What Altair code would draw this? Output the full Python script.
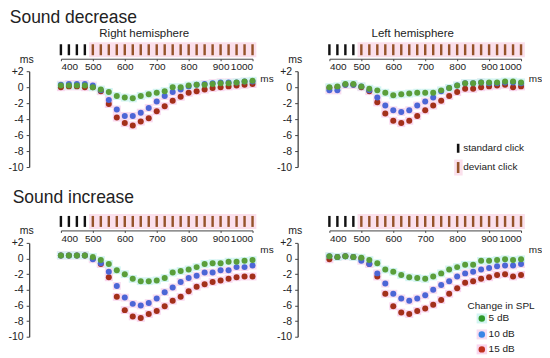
import altair as alt
import pandas as pd

FONT = "Liberation Sans"
TXT = "#222222"

# ---------------- data ----------------
times = [400, 425, 450, 475, 500, 525, 550, 575, 600, 625, 650, 675, 700,
         725, 750, 775, 800, 825, 850, 875, 900, 925, 950, 975, 1000]
clicks_standard = [400, 425, 450, 475]
clicks_deviant = [500, 525, 550, 575, 600, 625, 650, 675, 700, 725, 750, 775,
                  800, 825, 850, 875, 900, 925, 950, 975, 1000]
x_ticks = [400, 500, 600, 700, 800, 900, 1000]
y_ticks = [2, 0, -2, -4, -6, -8, -10]

series_names = ["5 dB", "10 dB", "15 dB"]
series_colors = ["#5a9e3a", "#4c66d6", "#a3301a"]
band_colors = ["#d3f4f2", "#f7dcf0", "#f9d6ee"]
legend_dot_colors = ["#2f9a2a", "#3a86e6", "#c0301e"]

# Sound decrease, right hemisphere
dec_right_5 = [0.2, 0.2, 0.2, 0.2, 0.0, -0.3, -0.6, -1.1, -1.3, -1.4, -1.1, -0.9, -0.7,
               -0.5, 0.0, 0.0, 0.2, 0.3, 0.3, 0.4, 0.5, 0.5, 0.6, 0.7, 0.8]
dec_right_10 = [0.3, 0.4, 0.4, 0.4, 0.2, -0.4, -1.6, -2.8, -3.6, -3.6, -3.2, -2.6, -1.8,
                -1.1, -0.6, -0.3, 0.1, 0.3, 0.4, 0.5, 0.6, 0.6, 0.6, 0.7, 0.7]
dec_right_15 = [0.0, 0.1, 0.1, 0.0, 0.0, -0.5, -2.1, -3.8, -4.5, -4.8, -4.3, -3.9, -3.0,
                -2.4, -1.7, -1.2, -0.7, -0.5, -0.3, -0.1, 0.0, 0.1, 0.2, 0.3, 0.4]
# Sound decrease, left hemisphere
dec_left_5 = [0.0, 0.1, 0.4, 0.4, 0.1, -0.2, -0.4, -0.7, -1.0, -0.9, -0.8, -0.7, -0.7,
              -0.7, -0.4, -0.1, 0.2, 0.5, 0.5, 0.6, 0.6, 0.6, 0.7, 0.7, 0.6]
dec_left_10 = [-0.4, -0.4, 0.3, 0.3, 0.1, -0.4, -1.3, -2.3, -2.9, -3.1, -2.9, -2.3, -1.8,
               -1.3, -0.5, -0.1, 0.2, 0.5, 0.5, 0.6, 0.5, 0.5, 0.6, 0.6, 0.5]
dec_left_15 = [-0.1, 0.0, 0.3, 0.3, 0.0, -0.5, -1.9, -3.3, -4.2, -4.5, -4.2, -3.6, -2.9,
               -2.3, -1.7, -1.1, -0.6, -0.2, -0.2, 0.0, 0.1, 0.2, 0.3, 0.0, 0.1]
# Sound increase, right hemisphere
inc_right_5 = [0.4, 0.4, 0.4, 0.4, 0.2, -0.2, -0.7, -1.5, -2.0, -2.6, -2.9, -2.9, -2.8,
               -2.5, -1.8, -1.6, -1.4, -1.1, -0.7, -0.6, -0.6, -0.4, -0.4, -0.3, -0.2]
inc_right_10 = [0.4, 0.4, 0.4, 0.4, -0.1, -0.6, -1.7, -3.5, -5.0, -5.8, -6.0, -5.7, -5.1,
                -4.3, -3.7, -3.0, -2.5, -2.2, -1.8, -1.8, -1.5, -1.5, -1.1, -1.1, -0.9]
inc_right_15 = [0.4, 0.4, 0.4, 0.4, 0.0, -0.7, -2.4, -4.9, -6.6, -7.4, -7.6, -7.1, -6.7,
                -6.1, -5.4, -4.9, -4.2, -3.6, -3.3, -3.0, -2.8, -2.6, -2.4, -2.3, -2.3]
# Sound increase, left hemisphere
inc_left_5 = [0.3, 0.2, 0.3, 0.2, 0.1, -0.2, -0.6, -1.4, -1.7, -2.1, -2.4, -2.5, -2.6,
              -2.3, -1.9, -1.4, -1.1, -0.8, -0.8, -0.3, -0.3, -0.2, -0.1, -0.2, -0.1]
inc_left_10 = [0.3, 0.2, 0.3, 0.2, -0.3, -0.7, -1.9, -3.2, -4.5, -5.1, -5.4, -5.1, -4.7,
               -4.0, -3.4, -2.9, -2.3, -1.9, -1.7, -1.4, -1.2, -1.0, -0.9, -0.9, -0.7]
inc_left_15 = [-0.1, 0.2, 0.3, 0.2, 0.0, -0.7, -2.3, -4.5, -6.1, -6.9, -7.1, -6.7, -6.4,
               -5.9, -5.3, -4.5, -3.8, -3.1, -2.9, -2.6, -2.4, -2.1, -2.0, -2.3, -2.1]

W = 192


def one_row(**kw):
    return pd.DataFrame([kw])


def panel(series, height, big_title=None, big_pos=None, hemi=None, y_off=31.8,
          click_legend=False, spl_legend=False):
    # long table, drawn 15 dB first so 5 dB sits on top
    rows = []
    for name, vals, col, bcol in reversed(list(zip(series_names, series,
                                                   series_colors, band_colors))):
        for t, v in zip(times, vals):
            rows.append({"t": t, "v": v, "s": name, "col": col, "bcol": bcol})
    df = pd.DataFrame(rows)

    xscale = alt.Scale(domain=[400, 1000], nice=False, zero=False)
    yscale = alt.Scale(domain=[-10, 2], nice=False, zero=False)
    xaxis = alt.Axis(orient="bottom", offset=-(height + 12.5), values=x_ticks,
                     labelExpr="'' + datum.value",
                     grid=False, tickSize=2, labelPadding=1, labelFontSize=10,
                     labelColor=TXT, domainColor="#444", tickColor="#444",
                     title="ms", titleX=206, titleY=19.5, titleAlign="center",
                     titleBaseline="middle", titleFontSize=10,
                     titleFontWeight="normal", titleColor=TXT, labelFont=FONT,
                     titleFont=FONT)
    yaxis = alt.Axis(values=y_ticks, offset=y_off, grid=False, tickSize=3,
                     labelPadding=3, labelFontSize=10.5, labelColor=TXT,
                     labelExpr="datum.value > 0 ? '+' + datum.value : '' + datum.value",
                     domainColor="#444", tickColor="#444", domainWidth=1.3,
                     title="ms", titleAngle=0, titleX=-3, titleY=-12,
                     titleAlign="center", titleBaseline="middle", titleFontSize=10.5,
                     titleFontWeight="normal", titleColor=TXT, labelFont=FONT,
                     titleFont=FONT)

    X = lambda f: alt.X(f, scale=xscale, axis=xaxis)
    Y = lambda f: alt.Y(f, scale=yscale, axis=yaxis)

    band = alt.Chart(df).transform_calculate(
        x1="datum.t - 12.5", x2="datum.t + 12.5",
        y1="datum.v - 0.5", y2="datum.v + 0.5"
    ).mark_rect(opacity=1).encode(
        x=X("x1:Q"), x2="x2:Q", y=Y("y1:Q"), y2="y2:Q",
        fill=alt.Fill("bcol:N", scale=None)
    )

    pts = alt.Chart(df).mark_circle(size=36, opacity=1).encode(
        x=X("t:Q"), y=Y("v:Q"),
        color=alt.Color("col:N", scale=None)
    )

    clicks = pd.DataFrame(
        [{"t": c, "col": "#111111"} for c in clicks_standard]
        + [{"t": c, "col": "#95532a"} for c in clicks_deviant]
    )
    dev_bg = alt.Chart(one_row(a=min(clicks_deviant) - 12,
                               b=max(clicks_deviant) + 12)).mark_rect(
        color="#fbe0ec").encode(x=X("a:Q"), x2="b:Q",
                                y=alt.value(-29), y2=alt.value(-14))
    bars = alt.Chart(clicks).transform_calculate(
        c1="datum.t - 3.8", c2="datum.t + 3.8"
    ).mark_rect().encode(
        x=X("c1:Q"), x2="c2:Q", y=alt.value(-27), y2=alt.value(-16),
        fill=alt.Fill("col:N", scale=None)
    )

    layers = [dev_bg, bars, band, pts]

    if big_title:
        layers.append(alt.Chart(one_row(txt=big_title)).mark_text(
            align="left", baseline="alphabetic", fontSize=17.5, font=FONT,
            color=TXT).encode(text="txt:N", x=alt.value(big_pos[0]),
                              y=alt.value(big_pos[1])))
    if hemi:
        layers.append(alt.Chart(one_row(txt=hemi)).mark_text(
            align="center", baseline="middle", fontSize=11.5, font=FONT,
            color=TXT).encode(text="txt:N", x=alt.value(83.5), y=alt.value(-37.3)))

    if click_legend:
        layers.append(alt.Chart(one_row(a=1)).mark_rect(color="#111111").encode(
            x=alt.value(127.7), x2=alt.value(130.3), y=alt.value(72.7),
            y2=alt.value(81.7)))
        layers.append(alt.Chart(one_row(a=1)).mark_rect(color="#fbe0ec").encode(
            x=alt.value(125), x2=alt.value(133.5), y=alt.value(88.5),
            y2=alt.value(104.5)))
        layers.append(alt.Chart(one_row(a=1)).mark_rect(color="#95532a").encode(
            x=alt.value(127.7), x2=alt.value(130.3), y=alt.value(91),
            y2=alt.value(102)))
        for lbl, yy in [("standard click", 77), ("deviant click", 96)]:
            layers.append(alt.Chart(one_row(txt=lbl)).mark_text(
                align="left", baseline="middle", fontSize=10, font=FONT,
                color=TXT).encode(text="txt:N", x=alt.value(134),
                                  y=alt.value(yy)))

    if spl_legend:
        layers.append(alt.Chart(one_row(txt="Change in SPL")).mark_text(
            align="center", baseline="middle", fontSize=10, font=FONT,
            color=TXT).encode(text="txt:N", x=alt.value(172), y=alt.value(63)))
        for name, dcol, bcol, yy in zip(series_names, legend_dot_colors,
                                        band_colors, [75.7, 91.7, 106.7]):
            layers.append(alt.Chart(one_row(a=1)).mark_rect(color=bcol).encode(
                x=alt.value(147.5), x2=alt.value(158), y=alt.value(yy - 5),
                y2=alt.value(yy + 5)))
            layers.append(alt.Chart(one_row(a=1)).mark_circle(
                size=42, color=dcol, opacity=1).encode(
                x=alt.value(152.7), y=alt.value(yy)))
            layers.append(alt.Chart(one_row(txt=name)).mark_text(
                align="left", baseline="middle", fontSize=10, font=FONT,
                color=TXT).encode(text="txt:N", x=alt.value(159.5),
                                  y=alt.value(yy)))

    return alt.layer(*layers).properties(width=W, height=height)


tl = panel([dec_right_5, dec_right_10, dec_right_15], 96,
           big_title="Sound decrease", big_pos=(-51.2, -48.5),
           hemi="Right hemisphere")
tr = panel([dec_left_5, dec_left_10, dec_left_15], 96,
           hemi="Left hemisphere", click_legend=True)
bl = panel([inc_right_5, inc_right_10, inc_right_15], 94,
           big_title="Sound increase", big_pos=(-48.3, -40.3))
br = panel([inc_left_5, inc_left_10, inc_left_15], 94, spl_legend=True)

chart = alt.concat(tl, tr, bl, br, columns=2,
                   spacing={"row": 76, "column": 77},
                   bounds="flush").properties(
    padding=0
).configure(font=FONT, view=alt.ViewConfig(stroke=None))

chart.save("out.html", embed_options={"renderer": "svg", "actions": False})
